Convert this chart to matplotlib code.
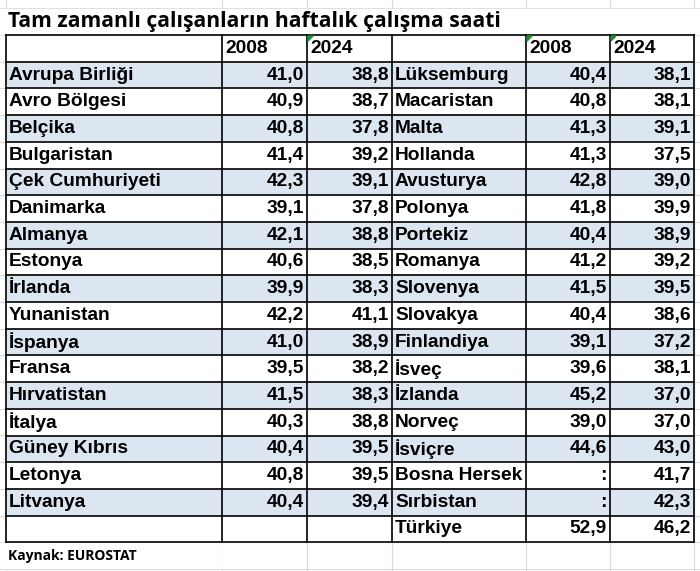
import matplotlib
matplotlib.use('Agg')
import matplotlib.pyplot as plt
from matplotlib.patches import Rectangle, Polygon

title = 'Tam zamanlı çalışanların haftalık çalışma saati'
source = 'Kaynak: EUROSTAT'
years = ['2008', '2024']

left_names = ['Avrupa Birliği', 'Avro Bölgesi', 'Belçika', 'Bulgaristan', 'Çek Cumhuriyeti',
              'Danimarka', 'Almanya', 'Estonya', 'İrlanda', 'Yunanistan', 'İspanya', 'Fransa',
              'Hırvatistan', 'İtalya', 'Güney Kıbrıs', 'Letonya', 'Litvanya', '']
left_2008 = ['41,0', '40,9', '40,8', '41,4', '42,3', '39,1', '42,1', '40,6', '39,9', '42,2',
             '41,0', '39,5', '41,5', '40,3', '40,4', '40,8', '40,4', '']
left_2024 = ['38,8', '38,7', '37,8', '39,2', '39,1', '37,8', '38,8', '38,5', '38,3', '41,1',
             '38,9', '38,2', '38,3', '38,8', '39,5', '39,5', '39,4', '']
right_names = ['Lüksemburg', 'Macaristan', 'Malta', 'Hollanda', 'Avusturya', 'Polonya',
               'Portekiz', 'Romanya', 'Slovenya', 'Slovakya', 'Finlandiya', 'İsveç', 'İzlanda',
               'Norveç', 'İsviçre', 'Bosna Hersek', 'Sırbistan', 'Türkiye']
right_2008 = ['40,4', '40,8', '41,3', '41,3', '42,8', '41,8', '40,4', '41,2', '41,5', '40,4',
              '39,1', '39,6', '45,2', '39,0', '44,6', ':', ':', '52,9']
right_2024 = ['38,1', '38,1', '39,1', '37,5', '39,0', '39,9', '38,9', '39,2', '39,5', '38,6',
              '37,2', '38,1', '37,0', '37,0', '43,0', '41,7', '42,3', '46,2']

W, H = 700, 571
fig = plt.figure(figsize=(W / 100, H / 100), dpi=100)
ax = fig.add_axes([0, 0, 1, 1])
ax.set_xlim(0, W)
ax.set_ylim(H, 0)
ax.axis('off')

cols = [6, 222, 307, 392, 526, 610, 694]
top = 35
rh = 26.7
n = len(left_names)
font = 'Liberation Sans'
fs = 13.8

# excel gridlines in the background
for x in cols:
    ax.plot([x, x], [0, H], color='#d9d9d9', lw=0.8, zorder=0)
y = top
while y < H:
    ax.plot([0, W], [y, y], color='#d9d9d9', lw=0.8, zorder=0)
    y += rh
ax.plot([0, W], [8, 8], color='#d9d9d9', lw=0.8, zorder=0)

# shaded rows
for i in range(n):
    y0 = top + rh * (i + 1)
    if i % 2 == 0:
        if left_names[i]:
            ax.add_patch(Rectangle((cols[0], y0), cols[3] - cols[0], rh, color='#dce6f1', zorder=1))
        ax.add_patch(Rectangle((cols[3], y0), cols[6] - cols[3], rh, color='#dce6f1', zorder=1))
    else:
        ax.add_patch(Rectangle((cols[0], y0), cols[6] - cols[0], rh, color='white', zorder=1))
ax.add_patch(Rectangle((cols[0], top), cols[6] - cols[0], rh, color='white', zorder=1))

bottom = top + rh * (n + 1)
for x in cols:
    ax.plot([x, x], [top, bottom], color='black', lw=1.2, zorder=3)
for i in range(n + 2):
    yy = top + rh * i
    ax.plot([cols[0], cols[6]], [yy, yy], color='black', lw=1.2, zorder=3)

# header
for c, yr in [(1, years[0]), (2, years[1]), (4, years[0]), (5, years[1])]:
    ax.text(cols[c] + 3, top + rh / 2, yr, ha='left', va='center', fontsize=fs,
            fontweight='bold', family=font, zorder=4)
for c in [2, 4, 5]:
    ax.add_patch(Polygon([[cols[c] + 1, top + 1], [cols[c] + 6, top + 1], [cols[c] + 1, top + 6]],
                         color='#1e8c2e', zorder=5))

for i in range(n):
    yc = top + rh * (i + 1.5)
    ax.text(cols[0] + 3, yc, left_names[i], ha='left', va='center', fontsize=fs,
            fontweight='bold', family=font, zorder=4)
    ax.text(cols[2] - 3, yc, left_2008[i], ha='right', va='center', fontsize=fs,
            fontweight='bold', family=font, zorder=4)
    ax.text(cols[3] - 3, yc, left_2024[i], ha='right', va='center', fontsize=fs,
            fontweight='bold', family=font, zorder=4)
    t = ax.text(cols[3] + 3, yc, right_names[i], ha='left', va='center', fontsize=fs,
                fontweight='bold', family=font, zorder=4)
    t.set_clip_path(Rectangle((cols[3], 0), cols[4] - cols[3] - 2, H, transform=ax.transData))
    ax.text(cols[5] - 3, yc, right_2008[i], ha='right', va='center', fontsize=fs,
            fontweight='bold', family=font, zorder=4)
    ax.text(cols[6] - 3, yc, right_2024[i], ha='right', va='center', fontsize=fs,
            fontweight='bold', family=font, zorder=4)

ax.add_patch(Rectangle((0, 9), W, top - 10, color='white', zorder=1))
ax.text(8, 21, title, ha='left', va='center', fontsize=15.2, fontweight='bold',
        family='Open Sans', zorder=4)
ax.add_patch(Rectangle((0, bottom + 1), cols[1], rh - 2, color='white', zorder=1))
ax.text(8, bottom + rh / 2, source, ha='left', va='center', fontsize=10,
        fontweight='bold', family='Open Sans', zorder=4)

fig.savefig('out.png', dpi=100)
